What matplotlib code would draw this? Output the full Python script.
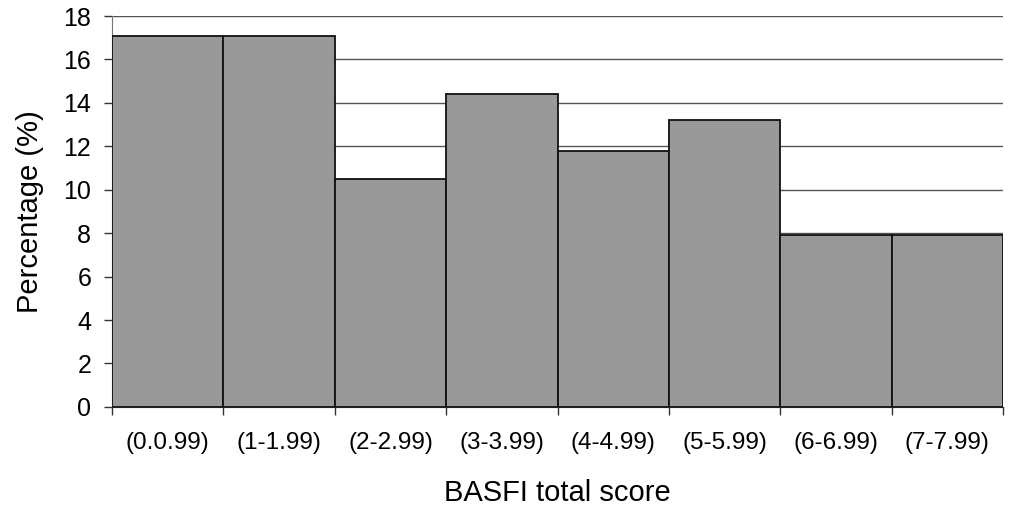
import numpy as np
import matplotlib.pyplot as plt

plt.rcParams['font.family'] = ['Liberation Sans', 'DejaVu Sans']

categories = ['(0.0.99)', '(1-1.99)', '(2-2.99)', '(3-3.99)',
              '(4-4.99)', '(5-5.99)', '(6-6.99)', '(7-7.99)']
percent = [17.1, 17.1, 10.5, 14.4, 11.8, 13.2, 7.9, 7.9]

fig = plt.figure(figsize=(10.1, 5.08), dpi=100)
ax = fig.add_axes([0.111, 0.199, 0.882, 0.7695])

x = np.arange(len(categories))
ax.bar(x, percent, width=1.0, color='#999999', edgecolor='#111111',
       linewidth=1.3, zorder=3)

ax.set_xlim(-0.5, len(categories) - 0.5)
ax.set_ylim(0, 18)
ax.set_yticks(np.arange(0, 19, 2))
ax.yaxis.grid(True, color='#555555', linewidth=1.0, zorder=0)
ax.set_axisbelow(True)

# ticks at category boundaries, labels centred
ax.set_xticks(np.arange(-0.5, len(categories) + 0.5, 1))
ax.set_xticklabels([])
ax.set_xticks(x, minor=True)
ax.set_xticklabels(categories, minor=True, fontsize=17.5)
ax.tick_params(axis='x', which='minor', length=0, pad=18)
ax.tick_params(axis='x', which='major', length=6, width=1.0, color='#333333')
ax.tick_params(axis='y', labelsize=18, length=6, width=1.0, color='#333333',
               pad=9)

for s in ['top', 'right']:
    ax.spines[s].set_visible(False)
ax.spines['left'].set_color('#777777')
ax.spines['bottom'].set_color('#222222')
ax.spines['bottom'].set_zorder(4)

ax.set_ylabel('Percentage (%)', fontsize=21, labelpad=14)
ax.set_xlabel('BASFI total score', fontsize=21, labelpad=18)

fig.savefig('out.png', dpi=100)
